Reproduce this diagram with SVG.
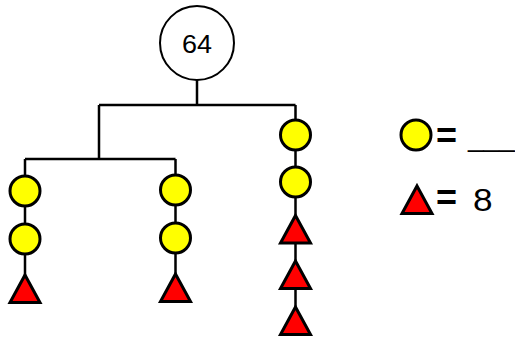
<svg xmlns="http://www.w3.org/2000/svg" width="515" height="339" viewBox="0 0 515 339">
<defs>
<style>
.edge{stroke:#000;stroke-width:2.5;fill:none}
.root{fill:#fff;stroke:#000;stroke-width:2}
.yc{fill:#ffff00;stroke:#000;stroke-width:3}
.tri{fill:#ff0000;stroke:#000;stroke-width:3;stroke-linejoin:miter}
.lbl{font-family:"Liberation Sans",Arial,sans-serif;fill:#000}
</style>
<circle id="circ" r="15"/>
<polygon id="trip" points="0,-13.5 15,14 -15,14"/>
</defs>
<rect width="515" height="339" fill="#fff"/>
<g id="connectors">
<path class="edge" d="M197,80 V105 M99,105 H295.5 M99,105 V159 M25,159 H175.5 M25,159 V290 M175.5,159 V290 M295.5,105 V320"/>
</g>
<g id="root"><circle class="root" cx="197" cy="43" r="37"/><text class="lbl" transform="translate(197,52.5) scale(1.08,1)" font-size="25" text-anchor="middle">64</text></g>
<g id="left">
<use href="#circ" class="yc" x="25" y="191"/>
<use href="#circ" class="yc" x="25" y="239"/>
<use href="#trip" class="tri" x="25" y="288.5"/>
</g>
<g id="middle">
<use href="#circ" class="yc" x="175.5" y="190"/>
<use href="#circ" class="yc" x="175.5" y="238"/>
<use href="#trip" class="tri" x="175.5" y="287.5"/>
</g>
<g id="right">
<use href="#circ" class="yc" x="295.5" y="135"/>
<use href="#circ" class="yc" x="295.5" y="182"/>
<use href="#trip" class="tri" x="295.5" y="229"/>
<use href="#trip" class="tri" x="295.5" y="274.5"/>
<use href="#trip" class="tri" x="295.5" y="320.5"/>
</g>
<g id="legend">
<use href="#circ" class="yc" x="416" y="135"/>
<text class="lbl" x="436" y="147.5" font-size="36" font-weight="bold">=</text>
<text class="lbl" x="468" y="146" font-size="28">___</text>
<use href="#trip" class="tri" x="417" y="199.5"/>
<text class="lbl" x="436" y="209.5" font-size="36" font-weight="bold">=</text>
<text class="lbl" transform="translate(473,211) scale(1.1,1)" font-size="32">8</text>
</g>
</svg>
